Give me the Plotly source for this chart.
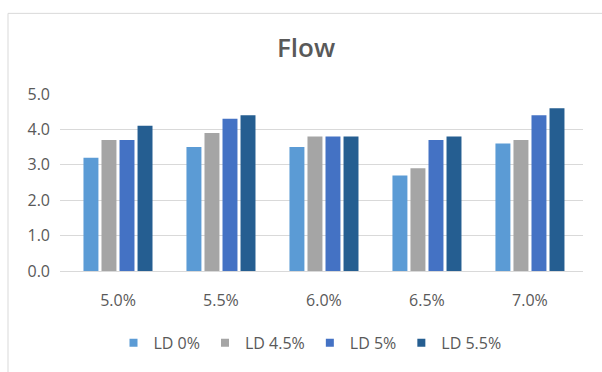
import plotly.graph_objects as go

# Flow by concentration, one series per LD level
categories = ["5.0%", "5.5%", "6.0%", "6.5%", "7.0%"]
series_names = ["LD 0%", "LD 4.5%", "LD 5%", "LD 5.5%"]
ld_0 = [3.2, 3.5, 3.5, 2.7, 3.6]
ld_4_5 = [3.7, 3.9, 3.8, 2.9, 3.7]
ld_5 = [3.7, 4.3, 3.8, 3.7, 4.4]
ld_5_5 = [4.1, 4.4, 3.8, 3.8, 4.6]
y_ticks = [0, 1, 2, 3, 4, 5]

series_values = [ld_0, ld_4_5, ld_5, ld_5_5]
colors = ["#5B9BD5", "#A5A5A5", "#4472C4", "#255E91"]
text_color = "#595959"
grid_color = "#D9D9D9"
font_family = "Open Sans"

fig = go.Figure()

for name, vals, col in zip(series_names, series_values, colors):
    fig.add_trace(go.Bar(
        x=categories, y=vals, name=name,
        marker=dict(color=col, line=dict(width=0)),
        showlegend=False,
    ))

# small square legend keys
for name, col in zip(series_names, colors):
    fig.add_trace(go.Scatter(
        x=[None], y=[None], name=name, mode="markers",
        marker=dict(symbol="square", size=8, color=col),
        showlegend=True,
    ))

fig.update_layout(
    width=602, height=372,
    margin=dict(l=60, r=19, t=94, b=98),
    paper_bgcolor="white",
    plot_bgcolor="white",
    barmode="group",
    bargap=0.30,
    bargroupgap=0.17,
    title=dict(
        text="Flow",
        x=306 / 602, xanchor="center",
        y=1 - 48 / 372, yanchor="middle",
        font=dict(family=font_family, size=26, color=text_color, weight=600),
    ),
    font=dict(family=font_family, size=16, color=text_color),
    legend=dict(
        orientation="h",
        x=(310 - 60) / 523, xanchor="center",
        y=(274 - 347) / 180, yanchor="middle",
        font=dict(family=font_family, size=16, color=text_color),
        itemwidth=30,
        bgcolor="rgba(0,0,0,0)",
    ),
    xaxis=dict(
        type="category",
        range=[-0.563, 4.515],
        showgrid=False,
        showline=True, linecolor=grid_color, linewidth=1,
        ticks="",
        ticklabelstandoff=15,
        tickfont=dict(family=font_family, size=16, color=text_color),
        zeroline=False,
    ),
    yaxis=dict(
        range=[0, 5],
        tickvals=y_ticks,
        tickformat=".1f",
        showgrid=True, gridcolor=grid_color, gridwidth=1,
        zeroline=False,
        showline=False,
        ticks="",
        ticklabelstandoff=9,
        tickfont=dict(family=font_family, size=16, color=text_color),
    ),
    shapes=[
        # chart-area frame
        dict(type="rect", xref="paper", yref="paper",
             x0=(8 - 60) / 523, x1=1.1,
             y0=-1.0, y1=(274 - 12) / 180,
             line=dict(color=grid_color, width=1),
             fillcolor="rgba(0,0,0,0)", layer="below"),
    ],
)

fig.write_html("out.html")
